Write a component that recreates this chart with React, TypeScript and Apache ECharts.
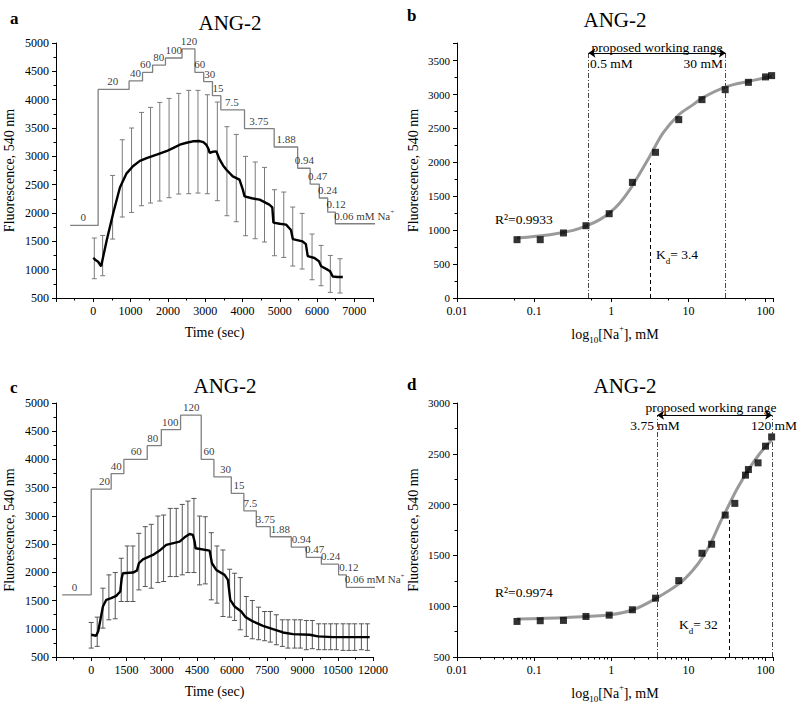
import React, { useEffect, useRef } from 'react';
import * as echarts from 'echarts';

const FONT = "'Liberation Serif', 'Times New Roman', Times, serif";

// ---------- Panel a (time course, 0..7500 s) ----------
const aStepTimes = [-620, 130, 960, 1320, 1590, 1935, 2380, 2725, 2960, 3195, 3420, 4055, 4850, 5480, 5815, 6060, 6285, 6490, 8010];
const aStepLevels = [1780, 4180, 4330, 4480, 4610, 4735, 4895, 4480, 4320, 4070, 3820, 3490, 3165, 2790, 2510, 2265, 2015, 1810];
const stepLabels = ['0', '20', '40', '60', '80', '100', '120', '60', '30', '15', '7.5', '3.75', '1.88', '0.94', '0.47', '0.24', '0.12', '0.06 mM Na{sup|+}'];
const aStepLabelTimes = [-267, 519, 1134, 1401, 1757, 2158, 2567, 2853, 3120, 3342, 3717, 4439, 5171, 5660, 6016, 6283, 6508, 7265];

const aMeanTime = [0, 60, 130, 210, 360, 535, 714, 893, 1070, 1250, 1430, 1700, 1960, 2150, 2320, 2500, 2670, 2850, 2950, 3030, 3090, 3120, 3200, 3300, 3390, 3480, 3570, 3740, 3920, 4010, 4056, 4250, 4460, 4720, 4800, 4830, 5000, 5170, 5300, 5350, 5610, 5700, 5750, 5930, 6050, 6110, 6280, 6350, 6420, 6550, 6690];
const aMeanValue = [1210, 1170, 1140, 1060, 1520, 2000, 2450, 2700, 2830, 2920, 2970, 3030, 3090, 3150, 3205, 3240, 3265, 3270, 3250, 3205, 3130, 3060, 3080, 3087, 2940, 2840, 2764, 2646, 2588, 2412, 2294, 2260, 2235, 2147, 2100, 1830, 1810, 1794, 1700, 1540, 1500, 1450, 1240, 1206, 1150, 1060, 1000, 970, 880, 870, 870];

const aBarTime = [27, 251, 518, 777, 1026, 1294, 1535, 1783, 2032, 2291, 2559, 2807, 3059, 3326, 3583, 3834, 4083, 4342, 4591, 4858, 5107, 5348, 5599, 5866, 6107, 6356, 6615];
const aBarHigh = [1558, 1604, 2663, 3293, 3500, 3775, 3864, 3952, 4022, 4111, 4164, 4164, 4087, 3958, 3523, 3387, 2999, 2900, 2805, 2411, 2370, 2105, 1993, 1629, 1428, 1251, 1193];
const aBarLow = [840, 893, 1540, 1929, 2010, 2128, 2176, 2211, 2270, 2335, 2340, 2352, 2340, 2217, 1952, 1846, 1599, 1546, 1488, 1246, 1216, 1064, 1011, 822, 716, 599, 588];

// ---------- Panel c (time course, 0..12000 s) ----------
const cStepTimes = [-1240, 0, 850, 1390, 2385, 2985, 3805, 4685, 5225, 5965, 6500, 7030, 7625, 8520, 9160, 9800, 10535, 10865, 12640];
const cStepLevels = [1600, 3475, 3750, 4000, 4245, 4530, 4785, 4000, 3690, 3400, 3090, 2810, 2630, 2445, 2265, 2145, 1955, 1735];
const cStepLabelTimes = [-707, 567, 1065, 1917, 2625, 3366, 4261, 5011, 5722, 6289, 6775, 7414, 8053, 8948, 9514, 10196, 10976, 12070];

const cMeanTime = [0, 213, 300, 498, 642, 850, 1065, 1236, 1300, 1350, 1775, 1945, 2030, 2200, 2627, 2911, 3195, 3763, 3976, 4189, 4331, 4400, 4445, 5041, 5141, 5325, 5680, 5822, 5921, 6106, 6390, 6575, 6888, 7314, 7740, 8166, 8592, 9302, 9657, 10296, 11858];
const cMeanValue = [894, 876, 960, 1395, 1513, 1542, 1583, 1660, 1900, 1984, 1996, 2031, 2161, 2231, 2308, 2385, 2485, 2544, 2620, 2679, 2662, 2550, 2426, 2385, 2161, 2043, 1955, 1866, 1513, 1395, 1306, 1206, 1130, 1053, 994, 935, 906, 894, 865, 853, 853];

const cBarTime = [0, 255, 498, 752, 1022, 1278, 1534, 1775, 2030, 2300, 2556, 2840, 3081, 3365, 3621, 3877, 4118, 4374, 4616, 4857, 5113, 5354, 5610, 5894, 6107, 6348, 6604, 6859, 7129, 7385, 7627, 7882, 8138, 8380, 8664, 8905, 9161, 9416, 9686, 9942, 10198, 10440, 10724, 10979, 11221, 11505, 11761];
const cBarHigh = [1112, 1206, 1719, 1955, 1996, 2249, 2467, 2467, 2691, 2809, 2850, 2997, 3015, 3133, 3133, 3203, 3262, 3309, 2997, 2985, 2703, 2467, 2396, 2055, 1984, 1907, 1572, 1501, 1383, 1306, 1306, 1248, 1159, 1159, 1159, 1159, 1147, 1147, 1088, 1088, 1088, 1088, 1088, 1088, 1088, 1088, 1088];
const cBarLow = [658, 688, 1012, 1159, 1177, 1483, 1483, 1483, 1689, 1748, 1719, 1819, 1837, 1925, 1925, 1955, 1996, 1996, 1778, 1795, 1513, 1454, 1218, 1206, 1147, 982, 865, 823, 806, 788, 764, 717, 688, 658, 658, 658, 629, 647, 629, 629, 629, 629, 617, 617, 617, 629, 617];

// ---------- Panel b (calibration) ----------
const bConc = [0.06, 0.12, 0.24, 0.47, 0.94, 1.88, 3.75, 7.5, 15, 30, 60, 100, 120];
const bFluor = [860, 860, 959, 1066, 1243, 1705, 2148, 2630, 2925, 3072, 3180, 3260, 3279];
const bFitConc = [0.06, 0.16, 0.32, 0.485, 0.71, 0.95, 1.29, 1.74, 2.23, 3.16, 4.7, 7.57, 11.5, 15.2, 30.5, 60.7, 120];
const bFitFluor = [885, 934, 997, 1066, 1155, 1254, 1401, 1597, 1794, 2089, 2434, 2704, 2851, 2950, 3112, 3195, 3268];
const bRange = [0.506, 30.5];
const bRangeY = 3613;
const bKd = 3.22;
const bKdTop = 1990;

// ---------- Panel d (calibration) ----------
const dConc = [0.06, 0.12, 0.24, 0.47, 0.94, 1.88, 3.75, 7.5, 15, 20, 30, 40, 55, 60, 80, 100, 120];
const dFluor = [850, 857, 860, 899, 912, 965, 1079, 1252, 1521, 1610, 1897, 2012, 2290, 2345, 2411, 2575, 2666];
const dFitConc = [0.06, 0.26, 0.96, 1.92, 3.85, 7.74, 11.5, 15.5, 19.9, 25.5, 32.7, 42, 59.6, 84.3, 120];
const dFitFluor = [873, 889, 915, 965, 1079, 1227, 1357, 1488, 1635, 1816, 1979, 2143, 2339, 2503, 2634];
const dRange = [3.93, 121.6];
const dRangeY = 2880;
const dKd = 33.5;
const dKdTop = 1880;

const pairs = (xs: number[], ys: number[]) => xs.map((x, i) => [x, ys[i]]);
const stepPoints = (times: number[], levels: number[]) => {
  const pts: number[][] = [];
  levels.forEach((lv, i) => {
    pts.push([times[i], lv]);
    pts.push([times[i + 1], lv]);
  });
  return pts;
};

const supSub = {
  sup: { fontSize: 8, verticalAlign: 'top', fontFamily: FONT, color: '#000', lineHeight: 16 },
  sub: { fontSize: 9, verticalAlign: 'bottom', fontFamily: FONT, color: '#000', lineHeight: 20 },
};

const plainFmt = (v: number) => String(v);
const logFmt = (v: number) => String(Number(v.toPrecision(6)));

const baseAxis = (extra: any) => ({
  axisLine: { show: true, onZero: false, lineStyle: { color: '#000', width: 1 } },
  axisTick: { show: true, inside: false, length: 4, lineStyle: { color: '#000', width: 1 } },
  minorTick: { show: true, splitNumber: 2, length: 2.5, lineStyle: { color: '#000', width: 1 } },
  splitLine: { show: false },
  minorSplitLine: { show: false },
  nameTextStyle: { color: '#000', fontFamily: FONT, fontSize: 14, rich: supSub },
  ...extra,
  axisLabel: { color: '#000', fontFamily: FONT, fontSize: 12, margin: 7, formatter: plainFmt, ...(extra.axisLabel || {}) },
});

const errorBars = (idx: number, t: number[], lo: number[], hi: number[], color: string) => ({
  type: 'custom',
  xAxisIndex: idx,
  yAxisIndex: idx,
  silent: true,
  z: 3,
  clip: false,
  encode: { x: 0, y: [1, 2] },
  data: t.map((x, i) => [x, lo[i], hi[i]]),
  renderItem: (_p: any, api: any) => {
    const x = api.value(0);
    const pl = api.coord([x, api.value(1)]);
    const ph = api.coord([x, api.value(2)]);
    const w = 2.5;
    const style = { stroke: color, lineWidth: 1 };
    return {
      type: 'group',
      children: [
        { type: 'line', shape: { x1: ph[0], y1: ph[1], x2: pl[0], y2: pl[1] }, style },
        { type: 'line', shape: { x1: ph[0] - w, y1: ph[1], x2: ph[0] + w, y2: ph[1] }, style },
        { type: 'line', shape: { x1: pl[0] - w, y1: pl[1], x2: pl[0] + w, y2: pl[1] }, style },
      ],
    };
  },
});

const stepSeries = (idx: number, times: number[], levels: number[], labelTimes: number[]) => [
  {
    type: 'line',
    xAxisIndex: idx,
    yAxisIndex: idx,
    data: stepPoints(times, levels),
    symbol: 'none',
    clip: false,
    silent: true,
    z: 2,
    lineStyle: { color: '#808080', width: 1.3 },
  },
  {
    type: 'scatter',
    xAxisIndex: idx,
    yAxisIndex: idx,
    symbolSize: 0,
    clip: false,
    silent: true,
    z: 4,
    data: labelTimes.map((t, i) => ({ value: [t, levels[i]], name: stepLabels[i] })),
    label: {
      show: true,
      position: 'top',
      distance: 1,
      formatter: (p: any) => p.name,
      fontFamily: FONT,
      fontSize: 11,
      color: '#000',
      lineHeight: 14,
      rich: { sup: { fontSize: 7, verticalAlign: 'top', fontFamily: FONT, color: '#000', lineHeight: 14 } },
    },
  },
];

const meanLine = (idx: number, t: number[], v: number[]) => ({
  type: 'line',
  xAxisIndex: idx,
  yAxisIndex: idx,
  data: pairs(t, v),
  symbol: 'none',
  silent: true,
  z: 5,
  lineStyle: { color: '#000', width: 2.4 },
});

const dashDot = { type: [5, 2, 1, 2], color: '#333', width: 0.9 };
const dashed = { type: [4, 3], color: '#000', width: 1 };

const calibSeries = (idx: number, conc: number[], fl: number[], fc: number[], ff: number[], range: number[], rangeY: number, kd: number, kdTop: number, y0: number) => [
  {
    type: 'line',
    xAxisIndex: idx,
    yAxisIndex: idx,
    data: pairs(fc, ff),
    symbol: 'none',
    smooth: 0.35,
    silent: true,
    z: 3,
    lineStyle: { color: '#9a9a9a', width: 3 },
    markLine: {
      silent: true,
      symbol: ['none', 'none'],
      symbolSize: 7,
      label: { show: false },
      animation: false,
      data: [
        [{ coord: [range[0], y0], lineStyle: dashDot }, { coord: [range[0], rangeY] }],
        [{ coord: [range[1], y0], lineStyle: dashDot }, { coord: [range[1], rangeY] }],
        [{ coord: [kd, y0], lineStyle: dashed }, { coord: [kd, kdTop] }],
        [
          { coord: [range[0], rangeY], symbol: 'arrow', symbolSize: 7, lineStyle: { type: 'solid', color: '#000', width: 1.2 } },
          { coord: [range[1], rangeY], symbol: 'arrow', symbolSize: 7 },
        ],
      ],
    },
  },
  {
    type: 'scatter',
    xAxisIndex: idx,
    yAxisIndex: idx,
    data: pairs(conc, fl),
    symbol: 'rect',
    symbolSize: 7,
    silent: true,
    z: 4,
    itemStyle: { color: '#000' },
  },
];

const txt = (x: number, y: number, text: string, size: number, align = 'center', extra: any = {}) => ({
  type: 'text',
  x,
  y,
  silent: true,
  style: {
    text,
    fill: '#000',
    fontFamily: FONT,
    fontSize: size,
    align,
    textAlign: align,
    verticalAlign: 'middle',
    textVerticalAlign: 'middle',
    lineHeight: 18,
    rich: {
      sub: { fontSize: 9, fontFamily: FONT, fill: '#000', verticalAlign: 'bottom', lineHeight: 22 },
    },
    ...extra,
  },
});

export default function App() {
  const ref = useRef<HTMLDivElement>(null);
  useEffect(() => {
    if (!ref.current) return;
    const chart = echarts.init(ref.current, undefined, { renderer: 'svg' });
    const yName = 'Fluorescence, 540 nm';
    const xLogName = 'log{sub|10}[Na{sup|+}], mM';
    const option: any = {
      animation: false,
      textStyle: { fontFamily: FONT, color: '#000' },
      grid: [
        { left: 56, top: 43, width: 317, height: 255 },
        { left: 457, top: 43, width: 316, height: 255 },
        { left: 56, top: 403, width: 317, height: 254 },
        { left: 457, top: 403, width: 316, height: 254 },
      ].map((g) => ({ ...g, containLabel: false, outerBoundsMode: 'none' })),
      xAxis: [
        baseAxis({ gridIndex: 0, type: 'value', min: -1000, max: 7500, interval: 1000, name: 'Time (sec)', nameLocation: 'middle', nameGap: 27, axisLabel: { showMinLabel: false, showMaxLabel: false } }),
        baseAxis({ gridIndex: 1, type: 'log', logBase: 10, min: 0.01, max: 125, name: xLogName, nameLocation: 'middle', nameGap: 26, axisLabel: { formatter: logFmt, showMaxLabel: false }, minorTick: { show: true, splitNumber: 2, length: 2.5, lineStyle: { color: '#000' } } }),
        baseAxis({ gridIndex: 2, type: 'value', min: -1500, max: 12000, interval: 1500, name: 'Time (sec)', nameLocation: 'middle', nameGap: 27, axisLabel: { showMinLabel: false } }),
        baseAxis({ gridIndex: 3, type: 'log', logBase: 10, min: 0.01, max: 125, name: xLogName, nameLocation: 'middle', nameGap: 26, axisLabel: { formatter: logFmt, showMaxLabel: false }, minorTick: { show: true, splitNumber: 9, length: 2.5, lineStyle: { color: '#000' } } }),
      ],
      yAxis: [
        baseAxis({ gridIndex: 0, type: 'value', min: 500, max: 5000, interval: 500, name: yName, nameLocation: 'middle', nameGap: 40 }),
        baseAxis({ gridIndex: 1, type: 'value', min: 0, max: 3760, interval: 500, name: yName, nameLocation: 'middle', nameGap: 37, axisLabel: { showMaxLabel: false, fontSize: 11 } }),
        baseAxis({ gridIndex: 2, type: 'value', min: 500, max: 5000, interval: 500, name: yName, nameLocation: 'middle', nameGap: 40 }),
        baseAxis({ gridIndex: 3, type: 'value', min: 500, max: 3000, interval: 500, name: yName, nameLocation: 'middle', nameGap: 37, axisLabel: { fontSize: 11 } }),
      ],
      series: [
        ...stepSeries(0, aStepTimes, aStepLevels, aStepLabelTimes),
        errorBars(0, aBarTime, aBarLow, aBarHigh, '#7a7a7a'),
        meanLine(0, aMeanTime, aMeanValue),
        ...stepSeries(2, cStepTimes, cStepLevels, cStepLabelTimes),
        errorBars(2, cBarTime, cBarLow, cBarHigh, '#555555'),
        meanLine(2, cMeanTime, cMeanValue),
        ...calibSeries(1, bConc, bFluor, bFitConc, bFitFluor, bRange, bRangeY, bKd, bKdTop, 0),
        ...calibSeries(3, dConc, dFluor, dFitConc, dFitFluor, dRange, dRangeY, dKd, dKdTop, 500),
      ],
      graphic: [
        txt(230, 23, 'ANG-2', 21),
        txt(615, 20, 'ANG-2', 21),
        txt(225, 386, 'ANG-2', 21),
        txt(625, 386, 'ANG-2', 21),
        txt(10, 18, 'a', 17, 'left', { fontWeight: 'bold' }),
        txt(407, 15, 'b', 17, 'left', { fontWeight: 'bold' }),
        txt(10, 387, 'c', 17, 'left', { fontWeight: 'bold' }),
        txt(407, 384, 'd', 17, 'left', { fontWeight: 'bold' }),
        txt(657, 47, 'proposed working range', 13.5),
        txt(590, 63, '0.5 mM', 13.5, 'left'),
        txt(723, 63, '30 mM', 13.5, 'right'),
        txt(495, 219, 'R²=0.9933', 13.5, 'left'),
        txt(656, 254, 'K{sub|d}= 3.4', 13.5, 'left'),
        txt(711, 407, 'proposed working range', 13.5),
        txt(655, 425, '3.75 mM', 13.5),
        txt(774, 425, '120 mM', 13.5),
        txt(495, 592, 'R²=0.9974', 13.5, 'left'),
        txt(679, 624, 'K{sub|d}= 32', 13.5, 'left'),
      ],
    };
    chart.setOption(option);
    return () => chart.dispose();
  }, []);
  return <div ref={ref} style={{ position: 'fixed', left: 0, top: 0, width: 798, height: 704, background: '#fff' }} />;
}
